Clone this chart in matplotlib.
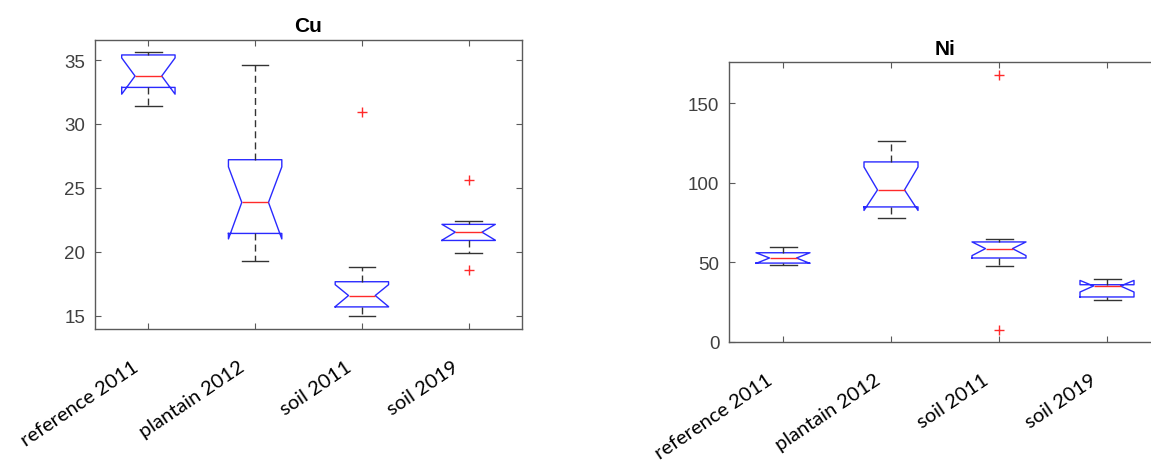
import matplotlib
matplotlib.use("Agg")
import matplotlib.pyplot as plt

# groups on the x axis
labels = ['reference 2011', 'plantain 2012', 'soil 2011', 'soil 2019']

# Cu box statistics
cu_whislo = [31.4, 19.3, 14.95, 19.86]
cu_q1 = [32.86, 21.43, 15.68, 20.88]
cu_med = [33.75, 23.86, 16.57, 21.53]
cu_q3 = [35.4, 27.2, 17.65, 22.14]
cu_whishi = [35.6, 34.6, 18.8, 22.37]
cu_cilo = [32.33, 21.0, 15.7, 20.9]
cu_cihi = [35.17, 26.64, 17.42, 22.14]
cu_fliers = [[], [], [30.9], [25.6, 18.57]]

# Ni box statistics
ni_whislo = [48.2, 77.8, 47.7, 26.2]
ni_q1 = [49.6, 84.9, 52.8, 28.3]
ni_med = [52.8, 95.6, 58.7, 35.2]
ni_q3 = [56.1, 113.2, 62.9, 36.0]
ni_whishi = [59.6, 126.6, 64.5, 39.4]
ni_cilo = [49.4, 82.7, 54.3, 31.4]
ni_cihi = [56.1, 110.0, 62.9, 38.7]
ni_fliers = [[], [], [168.0, 7.3], []]


def make_stats(lo, q1, med, q3, hi, cilo, cihi, fliers):
    stats = []
    for i in range(len(labels)):
        stats.append(dict(whislo=lo[i], q1=q1[i], med=med[i], q3=q3[i],
                          whishi=hi[i], cilo=cilo[i], cihi=cihi[i],
                          fliers=fliers[i], label=labels[i]))
    return stats


def draw(ax, stats, title, ylim, yticks, tpad):
    ax.bxp(stats, positions=[1, 2, 3, 4], widths=0.5, shownotches=True,
           boxprops=dict(color='#2a2aff', linewidth=1.0),
           medianprops=dict(color='#ff2a2a', linewidth=1.0),
           whiskerprops=dict(color='#333333', linewidth=1.0, linestyle=(0, (5, 3))),
           capprops=dict(color='#333333', linewidth=1.0),
           flierprops=dict(marker='+', markeredgecolor='#ff2a2a', markersize=7,
                           linestyle='none'))
    ax.set_xlim(0.5, 4.5)
    ax.set_ylim(*ylim)
    ax.set_yticks(yticks)
    ax.set_xticks([1, 2, 3, 4])
    ax.set_xticklabels([])
    ax.set_title(title, fontsize=15, fontweight='bold', pad=tpad,
                 family='Liberation Sans')
    for s in ax.spines.values():
        s.set_color('#5a5a5a')
        s.set_linewidth(1.0)
    ax.tick_params(direction='in', length=4, color='#5a5a5a', top=True,
                   right=True, labelsize=13.5, labelcolor='#404040', pad=7)
    for t in ax.get_yticklabels():
        t.set_family('Liberation Sans')
    for x, lab in zip([1, 2, 3, 4], labels):
        ax.annotate(lab, xy=(x, 0), xycoords=('data', 'axes fraction'),
                    xytext=(-12, -36), textcoords='offset pixels',
                    rotation=34, rotation_mode='anchor', ha='right', va='center',
                    fontsize=14.5, family='Lato', color='black')


fig = plt.figure(figsize=(11.51, 4.64), dpi=100)
ax1 = fig.add_axes([95 / 1151, (464 - 330) / 464, 427 / 1151, 289 / 464])
ax2 = fig.add_axes([729 / 1151, (464 - 343) / 464, 432 / 1151, 280 / 464])

draw(ax1, make_stats(cu_whislo, cu_q1, cu_med, cu_q3, cu_whishi, cu_cilo, cu_cihi, cu_fliers),
     'Cu', (13.95, 36.57), [15, 20, 25, 30, 35], 6.5)
draw(ax2, make_stats(ni_whislo, ni_q1, ni_med, ni_q3, ni_whishi, ni_cilo, ni_cihi, ni_fliers),
     'Ni', (0, 176), [0, 50, 100, 150], 6)

fig.savefig('out.png', dpi=100)
